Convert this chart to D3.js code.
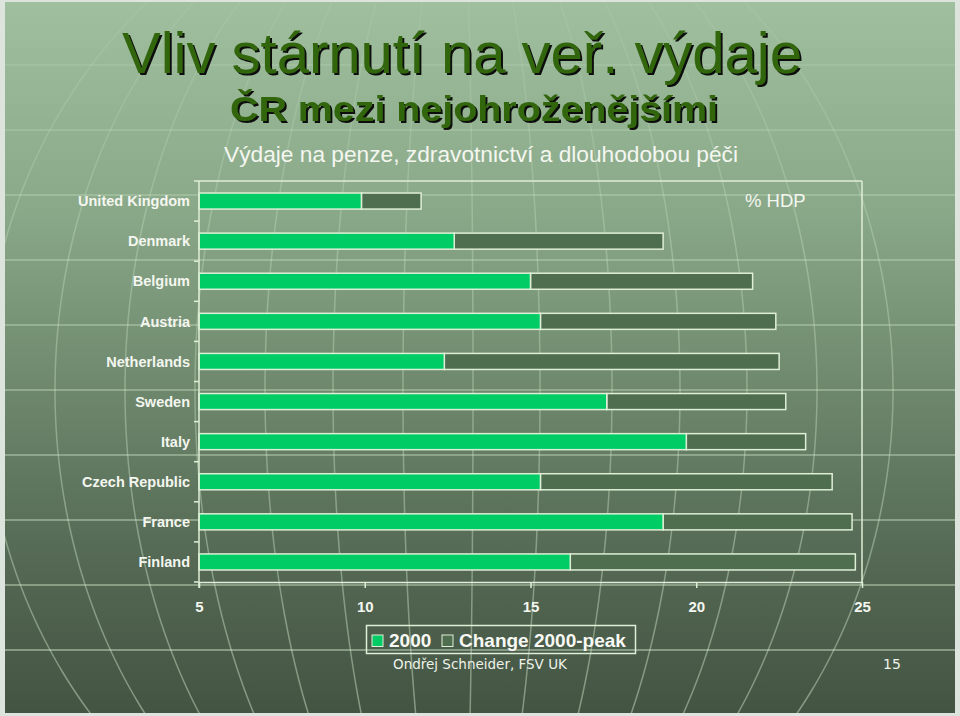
<!DOCTYPE html>
<html>
<head>
<meta charset="utf-8">
<script src="https://cdn.jsdelivr.net/npm/d3@7"></script>
<style>
  html, body { margin: 0; padding: 0; background: #dde3dd; }
  svg { display: block; font-family: "Liberation Sans", Arial, sans-serif; }
</style>
</head>
<body>
<svg id="slide" width="960" height="716"></svg>
<script>
'use strict';
const countries = ['United Kingdom','Denmark','Belgium','Austria','Netherlands','Sweden','Italy','Czech Republic','France','Finland'];
const values2000 = [9.9, 12.7, 15.0, 15.3, 12.4, 17.3, 19.7, 15.3, 19.0, 16.2];
const changePeak = [1.8, 6.3, 6.7, 7.1, 10.1, 5.4, 3.6, 8.8, 5.7, 8.6];
const xTicks = [5, 10, 15, 20, 25];
const seriesNames = ['2000', 'Change 2000-peak'];

const W = 960, H = 716;
const svg = d3.select('#slide');
const GREEN = '#00cc66', DARK = '#4f6e4f', LINE = '#dfeed6';
const SANS = '"Liberation Sans", Arial, sans-serif', VERD = '"DejaVu Sans", Verdana, sans-serif';

// background: gradient + globe grid
const defs = svg.append('defs');
const grad = defs.append('linearGradient').attr('id', 'bg').attr('x1', 0).attr('y1', 0).attr('x2', 0).attr('y2', 1);
[[0, '#a0bf9f'], [0.3, '#89a888'], [0.55, '#6d876c'], [0.8, '#536752'], [1, '#435443']]
  .forEach(([o, c]) => grad.append('stop').attr('offset', o).attr('stop-color', c));
const lgrad = defs.append('linearGradient').attr('id', 'gridStroke').attr('gradientUnits', 'userSpaceOnUse')
  .attr('x1', 0).attr('y1', 0).attr('x2', 0).attr('y2', H);
[[0, 0.08], [0.35, 0.3], [1, 0.45]]
  .forEach(([o, a]) => lgrad.append('stop').attr('offset', o).attr('stop-color', '#d7eed0').attr('stop-opacity', a));
defs.append('clipPath').attr('id', 'slideClip')
  .append('rect').attr('x', 5).attr('y', 2).attr('width', 950).attr('height', 711);
const shadow = defs.append('filter').attr('id', 'shadow').attr('x', '-5%').attr('y', '-20%').attr('width', '110%').attr('height', '140%');
shadow.append('feDropShadow').attr('dx', 2).attr('dy', 2).attr('stdDeviation', 0.4)
  .attr('flood-color', '#111').attr('flood-opacity', 1);

svg.append('rect').attr('x', 5).attr('y', 2).attr('width', 950).attr('height', 711).attr('fill', 'url(#bg)');

const globe = svg.append('g').attr('clip-path', 'url(#slideClip)')
  .attr('fill', 'none').attr('stroke', 'url(#gridStroke)');
d3.range(65, 716, 65).forEach(y => {
  globe.append('rect').attr('x', 0).attr('width', W).attr('y', y - 1).attr('height', 2)
    .attr('stroke', 'none').attr('fill', 'url(#gridStroke)');
});
const gcx = 460, gcy = 390, gR = 515;
const meridians = [-15, 55, 125, 195, 265, 333, 403, 473, 540, 612, 680, 747, 817, 893];
const mLine = d3.line();
meridians.forEach(x0 => {
  const pts = d3.range(0, 720, 6).map(y => {
    const k = Math.sqrt(Math.max(0, 1 - ((y - gcy) / gR) ** 2));
    return [gcx + (x0 - gcx) * k, y];
  });
  globe.append('path').attr('d', mLine(pts)).attr('stroke-width', 1.5);
});

// titles
function shadowText(txt, x, y, size, weight, len) {
  svg.append('text').attr('x', x).attr('y', y)
    .attr('text-anchor', 'middle').attr('font-size', size).attr('font-weight', weight)
    .attr('textLength', len).attr('lengthAdjust', 'spacingAndGlyphs')
    .attr('fill', '#336611').attr('filter', 'url(#shadow)').text(txt);
}
shadowText('Vliv stárnutí na veř. výdaje', 462, 73, 57, 'normal', 680);
shadowText('ČR mezi nejohroženějšími', 474, 121, 35, 'bold', 488);
svg.append('text').attr('x', 481).attr('y', 162).attr('text-anchor', 'middle')
  .attr('font-size', 22.5).attr('fill', '#f4f6f0')
  .attr('textLength', 514).attr('lengthAdjust', 'spacingAndGlyphs')
  .text('Výdaje na penze, zdravotnictví a dlouhodobou péči');

// chart
const x = d3.scaleLinear().domain([5, 25]).range([199, 862]);
const y = d3.scaleBand().domain(countries).range([181, 582]).paddingInner(0.6).paddingOuter(0.3);

const frame = svg.append('g').attr('stroke', LINE).attr('stroke-width', 1.5);
frame.append('line').attr('x1', x(5)).attr('x2', x(25)).attr('y1', 181).attr('y2', 181);
frame.append('line').attr('x1', x(25)).attr('x2', x(25)).attr('y1', 181).attr('y2', 582);

const rows = countries.map((c, i) => ({ c, v: values2000[i], d: changePeak[i] }));
svg.append('g').selectAll('rect').data(rows).join('rect')
  .attr('x', d => x(d.v)).attr('y', d => y(d.c))
  .attr('width', d => x(d.v + d.d) - x(d.v)).attr('height', y.bandwidth())
  .attr('fill', DARK).attr('stroke', LINE).attr('stroke-width', 1.5);
svg.append('g').selectAll('rect').data(rows).join('rect')
  .attr('x', x(5)).attr('y', d => y(d.c))
  .attr('width', d => x(d.v) - x(5)).attr('height', y.bandwidth())
  .attr('fill', GREEN).attr('stroke', LINE).attr('stroke-width', 1.5);

// category axis
const yAxis = svg.append('g').attr('stroke', LINE).attr('stroke-width', 1.5);
yAxis.append('line').attr('x1', x(5)).attr('x2', x(5)).attr('y1', 181).attr('y2', 588);
d3.range(countries.length + 1).forEach(i => {
  const yy = 181 + i * y.step();
  yAxis.append('line').attr('x1', x(5) - 5).attr('x2', x(5)).attr('y1', yy).attr('y2', yy);
});
svg.append('g').selectAll('text').data(countries).join('text')
  .attr('x', 190).attr('y', d => y(d) + y.bandwidth() / 2).attr('dy', '0.36em')
  .attr('text-anchor', 'end').attr('font-size', 14.5).attr('font-weight', 'bold')
  .attr('fill', '#f4f6f0').text(d => d);

// value axis
const xAxis = svg.append('g').attr('transform', 'translate(0,582)')
  .call(d3.axisBottom(x).tickValues(xTicks).tickSize(6).tickSizeOuter(0).tickPadding(13))
  .attr('font-family', SANS).attr('font-size', 15);
xAxis.select('.domain').attr('stroke', LINE).attr('stroke-width', 1.5);
xAxis.selectAll('.tick line').attr('stroke', LINE).attr('stroke-width', 1.5);
xAxis.selectAll('.tick text').attr('font-weight', 'bold').attr('fill', '#f4f6f0');

svg.append('text').attr('x', 745).attr('y', 207).attr('font-size', 18.5)
  .attr('fill', '#f4f6f0').text('% HDP');

// legend
const lg = svg.append('g');
lg.append('rect').attr('x', 366.5).attr('y', 625.5).attr('width', 269).attr('height', 28)
  .attr('fill', 'none').attr('stroke', LINE).attr('stroke-width', 1.5);
const lgItems = [{ name: seriesNames[0], fill: GREEN, sx: 372, tx: 389 }, { name: seriesNames[1], fill: DARK, sx: 442, tx: 459 }];
lgItems.forEach(it => {
  lg.append('rect').attr('x', it.sx).attr('y', 635).attr('width', 11).attr('height', 11.5)
    .attr('fill', it.fill).attr('stroke', LINE).attr('stroke-width', 1);
  lg.append('text').attr('x', it.tx).attr('y', 647).attr('font-size', 19).attr('font-weight', 'bold')
    .attr('fill', '#f8f8f4').text(it.name);
});

svg.append('text').attr('x', 393).attr('y', 669).attr('font-size', 13.5)
  .attr('font-family', VERD).attr('fill', '#eef2ea')
  .text('Ondřej Schneider, FSV UK');
svg.append('text').attr('x', 883).attr('y', 669).attr('font-size', 14)
  .attr('font-family', VERD).attr('fill', '#eef2ea')
  .text('15');
</script>
</body>
</html>
